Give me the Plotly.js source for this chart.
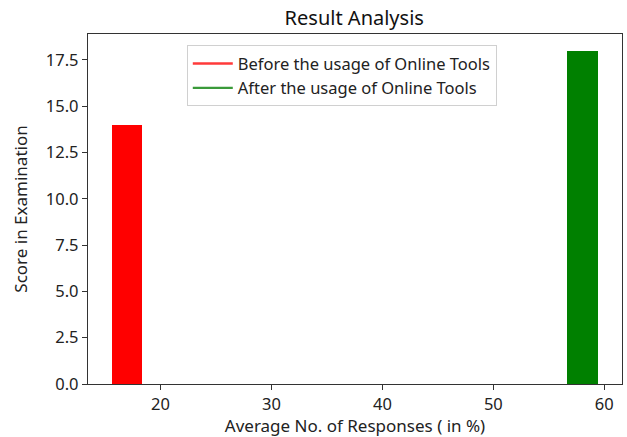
<!DOCTYPE html>
<html>
<head>
<meta charset="utf-8">
<script src="https://cdn.plot.ly/plotly-3.0.1.min.js"></script>
<style>html,body{margin:0;padding:0;background:#fff;}#chart{width:627px;height:437px;}</style>
</head>
<body>
<div id="chart"></div>
<script>
var seriesNames = ["Before the usage of Online Tools", "After the usage of Online Tools"];
var responses = [17.0, 58.03];
var scores = [14, 18];
var barWidths = [2.7, 2.76];
var colors = ["red", "green"];
var legendColors = ["#ff3a3a", "#3a9a3a"];
var xTicks = [20, 30, 40, 50, 60];
var yTicks = [0, 2.5, 5, 7.5, 10, 12.5, 15, 17.5];
var yTickText = yTicks.map(function(v){return v.toFixed(1);});

var traces = [];
for (var i = 0; i < seriesNames.length; i++) {
  traces.push({
    type: 'bar', x: [responses[i]], y: [scores[i]], width: [barWidths[i]],
    marker: {color: colors[i], line: {width: 0}}, showlegend: false, hoverinfo: 'skip'
  });
}
for (var j = 0; j < seriesNames.length; j++) {
  traces.push({
    type: 'scatter', mode: 'lines', x: [null], y: [null], name: seriesNames[j],
    line: {color: legendColors[j], width: 2.4}
  });
}

var fam = 'Noto Sans, sans-serif';
var font = {family: fam, size: 17, color: '#222'};
var layout = {
  width: 627, height: 437,
  margin: {l: 88, r: 5, t: 34, b: 53},
  paper_bgcolor: '#fff', plot_bgcolor: '#fff',
  font: font,
  title: {text: 'Result Analysis', font: {family: fam, size: 20, color: '#111'}, x: 0.565, xanchor: 'center', y: 0.958, yanchor: 'middle'},
  xaxis: {
    range: [13.46, 61.6], tickvals: xTicks, ticktext: xTicks.map(String),
    showgrid: false, zeroline: false, showline: true, mirror: true, linecolor: '#333', linewidth: 1.2,
    ticks: 'outside', ticklen: 5, tickcolor: '#333', tickfont: {family: fam, size: 16.5, color: '#222'},
    title: {text: 'Average No. of Responses ( in %)', font: {family: fam, size: 17, color: '#222'}, standoff: 4}
  },
  yaxis: {
    range: [0, 18.9], tickvals: yTicks, ticktext: yTickText,
    showgrid: false, zeroline: false, showline: true, mirror: true, linecolor: '#333', linewidth: 1.2,
    ticks: 'outside', ticklen: 5, tickcolor: '#333', tickfont: {family: fam, size: 16.5, color: '#222'},
    title: {text: 'Score in Examination', font: {family: fam, size: 17, color: '#222'}, standoff: 13}
  },
  legend: {
    x: 0.185, y: 0.968, xanchor: 'left', yanchor: 'top',
    bgcolor: 'rgba(255,255,255,0.8)', bordercolor: '#d0d0d0', borderwidth: 1,
    font: {family: fam, size: 16.5, color: '#222'}, tracegroupgap: 0, itemwidth: 40
  },
  bargap: 0, showlegend: true
};
Plotly.newPlot('chart', traces, layout, {displayModeBar: false, staticPlot: true});
</script>
</body>
</html>
